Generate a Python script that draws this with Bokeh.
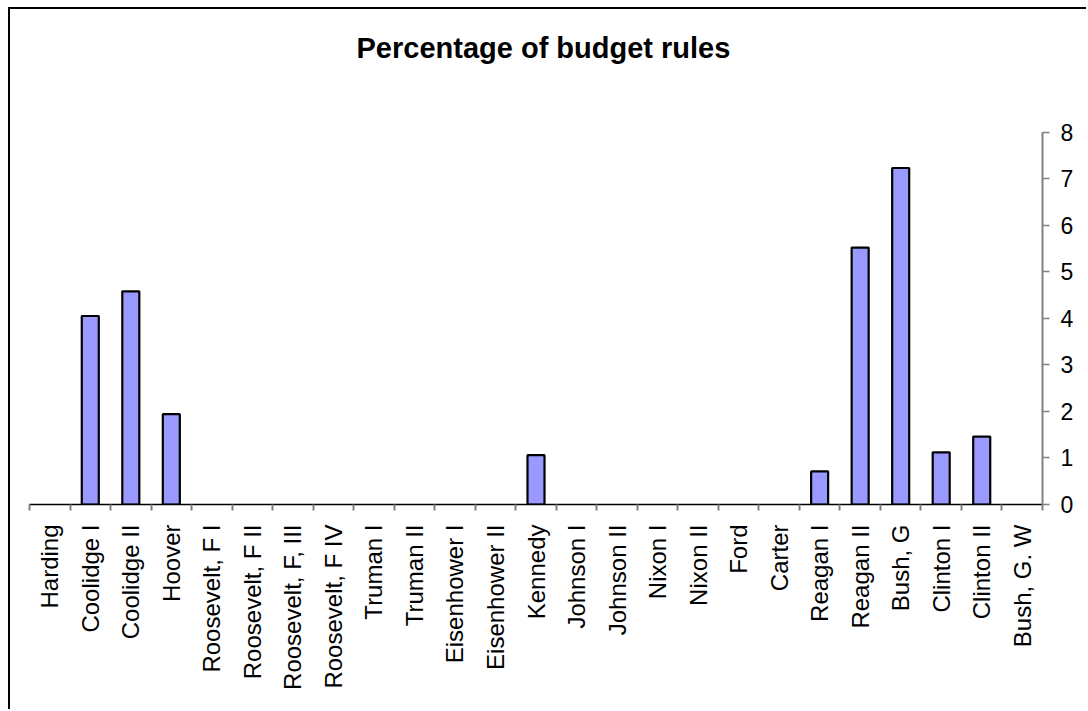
import math
from bokeh.plotting import figure
from bokeh.models import Range1d, FixedTicker, ColumnDataSource, Label
from bokeh.embed import file_html
from bokeh.resources import INLINE

categories = ["Harding", "Coolidge I", "Coolidge II", "Hoover", "Roosevelt, F I",
              "Roosevelt, F II", "Roosevelt, F, III", "Roosevelt, F IV", "Truman I",
              "Truman II", "Eisenhower I", "Eisenhower II", "Kennedy", "Johnson I",
              "Johnson II", "Nixon I", "Nixon II", "Ford", "Carter", "Reagan I",
              "Reagan II", "Bush, G", "Clinton I", "Clinton II", "Bush, G. W"]
values = [0, 4.05, 4.58, 1.94, 0, 0, 0, 0, 0, 0, 0, 0, 1.06, 0, 0, 0, 0, 0, 0,
          0.71, 5.52, 7.23, 1.12, 1.46, 0]
y_ticks = [0, 1, 2, 3, 4, 5, 6, 7, 8]
title_text = "Percentage of budget rules"

FONT = "Liberation Sans"
n = len(categories)
centers = [i + 0.5 for i in range(n)]
bounds = list(range(n + 1))

src = ColumnDataSource(dict(
    x=[c for c, v in zip(centers, values) if v > 0],
    top=[v for v in values if v > 0],
))

# the frame extends above the axis top so the title can sit inside it
p = figure(width=1078, height=702,
           x_range=Range1d(0, n), y_range=Range1d(y_ticks[0], 10.42),
           output_backend="svg", toolbar_location=None,
           y_axis_location="right",
           min_border_left=19, min_border_right=46,
           min_border_top=10, min_border_bottom=207)
p.styles = {"margin-left": "8px", "margin-top": "7px",
            "border-left": "2px solid black", "border-top": "2px solid black"}

p.vbar(x="x", top="top", width=0.42, source=src,
       fill_color="#9999FF", line_color="black", line_width=2.2)

p.grid.visible = False
p.outline_line_color = None
p.background_fill_color = "white"
p.border_fill_color = "white"

# title (screen-positioned label, relative to the plot frame)
p.add_layout(Label(x=327, y=457, x_units="screen", y_units="screen",
                   text=title_text, text_font=FONT, text_font_style="bold",
                   text_font_size="29px", text_color="black",
                   text_align="left", text_baseline="alphabetic"))

# x axis
xa = p.xaxis[0]
xa.ticker = FixedTicker(ticks=centers, minor_ticks=bounds)
xa.major_label_overrides = {c: lab for c, lab in zip(centers, categories)}
xa.major_label_orientation = math.pi / 2
xa.major_label_text_font = FONT
xa.major_label_text_font_size = "24px"
xa.major_label_text_color = "black"
xa.major_label_standoff = 14
xa.major_tick_out = 0
xa.major_tick_in = 0
xa.minor_tick_out = 6
xa.minor_tick_in = 0
xa.minor_tick_line_color = "#808080"
xa.minor_tick_line_width = 2
xa.axis_line_color = "black"
xa.axis_line_width = 1.5

# y axis (right)
ya = p.yaxis[0]
ya.ticker = FixedTicker(ticks=y_ticks)
ya.bounds = (y_ticks[0], y_ticks[-1])
ya.major_label_text_font = FONT
ya.major_label_text_font_size = "23px"
ya.major_label_text_color = "black"
ya.major_label_standoff = 11
ya.major_tick_out = 7
ya.major_tick_in = 0
ya.minor_tick_line_color = None
ya.major_tick_line_color = "#808080"
ya.major_tick_line_width = 1.5
ya.axis_line_color = "#808080"
ya.axis_line_width = 2

open("out.html", "w").write(file_html(p, INLINE))
